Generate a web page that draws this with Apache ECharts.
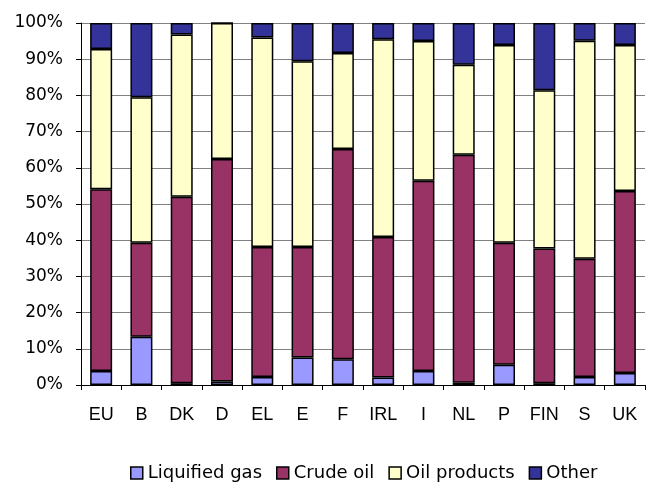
<!DOCTYPE html>
<html>
<head>
<meta charset="utf-8">
<script src="https://cdn.jsdelivr.net/npm/echarts@6/dist/echarts.min.js"></script>
<style>
  html, body { margin: 0; padding: 0; background: #fff; }
  #chart { width: 646px; height: 489px; }
</style>
</head>
<body>
<div id="chart"></div>
<script>
  var countries = ['EU', 'B', 'DK', 'D', 'EL', 'E', 'F', 'IRL', 'I', 'NL', 'P', 'FIN', 'S', 'UK']

  // shares in percent
  var liquifiedGas = [3.9, 13.3, 0.5, 1.0, 2.2, 7.6, 7.1, 2.1, 3.9, 0.6, 5.6, 0.5, 2.2, 3.3]
  var crudeOil     = [50.2, 26.0, 51.5, 61.4, 35.9, 30.5, 58.1, 38.8, 52.5, 63.0, 33.7, 37.2, 32.7, 50.3]
  var oilProducts  = [38.7, 40.2, 44.8, 37.6, 57.9, 51.3, 26.5, 54.6, 38.6, 24.9, 54.6, 43.7, 60.2, 40.3]
  var other        = [7.2, 20.5, 3.2, 0.0, 4.0, 10.6, 8.3, 4.5, 5.0, 11.5, 6.1, 18.6, 4.9, 6.1]

  var seriesNames = ['Liquified gas', 'Crude oil', 'Oil products', 'Other']
  var seriesData = [liquifiedGas, crudeOil, oilProducts, other]
  var colors = ['#9999ff', '#993366', '#ffffcc', '#333399']

  var wideFont = 'DejaVu Sans, sans-serif'
  var plainFont = 'Liberation Sans, Arial, sans-serif'

  var chart = echarts.init(document.getElementById('chart'))

  var series = seriesNames.map(function (name, i) {
    return {
      name: name,
      type: 'bar',
      stack: 'total',
      barWidth: 22,
      data: seriesData[i],
      itemStyle: { color: colors[i], borderColor: '#000', borderWidth: 1.5 },
      emphasis: { disabled: true }
    }
  })

  chart.setOption({
    animation: false,
    textStyle: { fontFamily: wideFont },
    grid: { left: 81, right: 1, top: 23, bottom: 104 },
    legend: {
      bottom: 2,
      left: 125,
      icon: 'rect',
      itemWidth: 12,
      itemHeight: 12,
      itemGap: 14,
      textStyle: { fontSize: 18, color: '#000', fontFamily: wideFont },
      itemStyle: { borderColor: '#000', borderWidth: 1.5 },
      data: seriesNames
    },
    xAxis: {
      type: 'category',
      data: countries,
      axisLine: { lineStyle: { color: '#000', width: 1 } },
      axisTick: { show: true, length: 5, lineStyle: { color: '#000' } },
      axisLabel: { interval: 0, fontSize: 18, color: '#000', margin: 21, fontFamily: plainFont },
      splitLine: { show: false }
    },
    yAxis: {
      type: 'value',
      min: 0,
      max: 100,
      interval: 10,
      axisLine: { show: true, lineStyle: { color: '#000', width: 1 } },
      axisTick: { show: true, length: 5, lineStyle: { color: '#000' } },
      axisLabel: { fontSize: 17, color: '#000', margin: 18, formatter: '{value}%', fontFamily: wideFont },
      splitLine: { lineStyle: { color: '#808080', width: 1 } }
    },
    series: series
  })
</script>
</body>
</html>
